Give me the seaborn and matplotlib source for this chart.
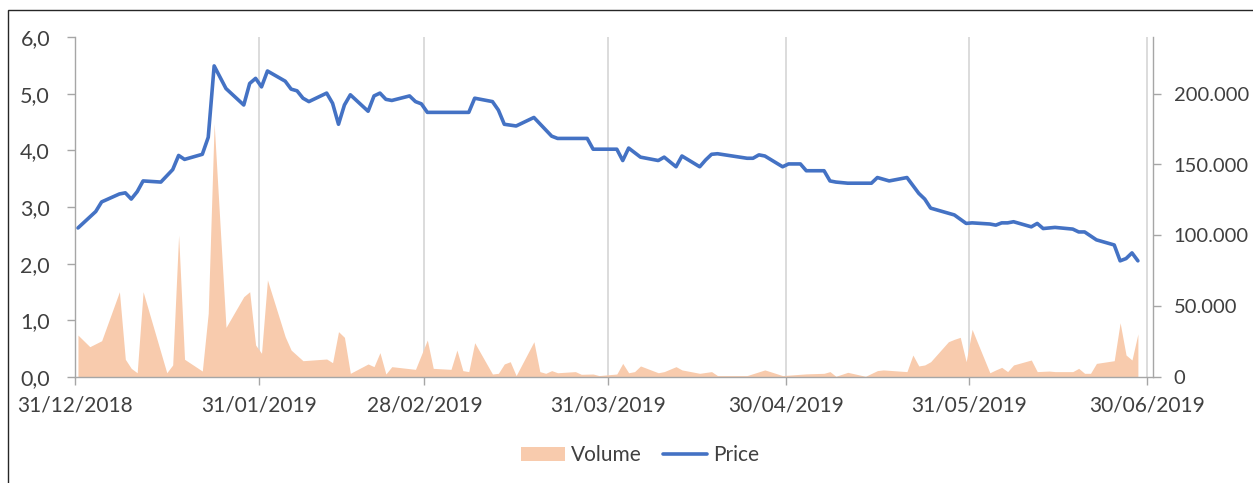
import pandas as pd
import matplotlib
matplotlib.use("Agg")
import matplotlib.pyplot as plt
import matplotlib.dates as mdates
from matplotlib.patches import Patch, Rectangle
from matplotlib.lines import Line2D
from matplotlib.ticker import FuncFormatter
import seaborn as sns

# Price (left axis)
price_dates = ["2018-12-31", "2019-01-03", "2019-01-04", "2019-01-07", "2019-01-08", "2019-01-09",
               "2019-01-10", "2019-01-11", "2019-01-14", "2019-01-16", "2019-01-17", "2019-01-18",
               "2019-01-21", "2019-01-22", "2019-01-23", "2019-01-25", "2019-01-28", "2019-01-29",
               "2019-01-30", "2019-01-31", "2019-02-01", "2019-02-04", "2019-02-05", "2019-02-06",
               "2019-02-07", "2019-02-08", "2019-02-11", "2019-02-12", "2019-02-13", "2019-02-14",
               "2019-02-15", "2019-02-18", "2019-02-19", "2019-02-20", "2019-02-21", "2019-02-22",
               "2019-02-25", "2019-02-26", "2019-02-27", "2019-02-28", "2019-03-07", "2019-03-08",
               "2019-03-11", "2019-03-12", "2019-03-13", "2019-03-15", "2019-03-18", "2019-03-21",
               "2019-03-22", "2019-03-27", "2019-03-28", "2019-04-01", "2019-04-02", "2019-04-03",
               "2019-04-05", "2019-04-08", "2019-04-09", "2019-04-11", "2019-04-12", "2019-04-15",
               "2019-04-16", "2019-04-17", "2019-04-18", "2019-04-23", "2019-04-24", "2019-04-25",
               "2019-04-26", "2019-04-29", "2019-04-30", "2019-05-02", "2019-05-03", "2019-05-06",
               "2019-05-07", "2019-05-08", "2019-05-10", "2019-05-14", "2019-05-15", "2019-05-17",
               "2019-05-20", "2019-05-22", "2019-05-23", "2019-05-24", "2019-05-27", "2019-05-28",
               "2019-05-30", "2019-05-31", "2019-06-03", "2019-06-04", "2019-06-05", "2019-06-06",
               "2019-06-07", "2019-06-10", "2019-06-11", "2019-06-12", "2019-06-14", "2019-06-17",
               "2019-06-18", "2019-06-19", "2019-06-21", "2019-06-24", "2019-06-25", "2019-06-26",
               "2019-06-27", "2019-06-28"]
price = [2.63, 2.92, 3.09, 3.23, 3.25, 3.14, 3.27, 3.46, 3.44, 3.66, 3.91, 3.84,
         3.93, 4.23, 5.49, 5.09, 4.80, 5.18, 5.27, 5.12, 5.40, 5.22, 5.08, 5.05,
         4.92, 4.86, 5.01, 4.83, 4.46, 4.80, 4.98, 4.69, 4.96, 5.01, 4.90, 4.88,
         4.96, 4.86, 4.82, 4.67, 4.67, 4.92, 4.86, 4.71, 4.46, 4.43, 4.58, 4.25,
         4.21, 4.21, 4.02, 4.02, 3.82, 4.04, 3.88, 3.82, 3.88, 3.71, 3.90, 3.71,
         3.83, 3.93, 3.94, 3.86, 3.86, 3.92, 3.90, 3.71, 3.76, 3.76, 3.64, 3.64,
         3.46, 3.44, 3.42, 3.42, 3.52, 3.46, 3.52, 3.24, 3.14, 2.98, 2.89, 2.86,
         2.71, 2.72, 2.70, 2.68, 2.72, 2.72, 2.74, 2.65, 2.71, 2.62, 2.64, 2.61,
         2.56, 2.56, 2.42, 2.33, 2.05, 2.09, 2.19, 2.05]

# Volume (right axis)
vol_dates = ["2018-12-31", "2019-01-02", "2019-01-04", "2019-01-07", "2019-01-08", "2019-01-09",
             "2019-01-10", "2019-01-11", "2019-01-15", "2019-01-16", "2019-01-17", "2019-01-18",
             "2019-01-21", "2019-01-22", "2019-01-23", "2019-01-25", "2019-01-28", "2019-01-29",
             "2019-01-30", "2019-01-31", "2019-02-01", "2019-02-04", "2019-02-05", "2019-02-07",
             "2019-02-11", "2019-02-12", "2019-02-13", "2019-02-14", "2019-02-15", "2019-02-18",
             "2019-02-19", "2019-02-20", "2019-02-21", "2019-02-22", "2019-02-26", "2019-02-28",
             "2019-03-01", "2019-03-04", "2019-03-05", "2019-03-06", "2019-03-07", "2019-03-08",
             "2019-03-11", "2019-03-12", "2019-03-13", "2019-03-14", "2019-03-15", "2019-03-18",
             "2019-03-19", "2019-03-20", "2019-03-21", "2019-03-22", "2019-03-25", "2019-03-26",
             "2019-03-28", "2019-03-29", "2019-04-01", "2019-04-02", "2019-04-03", "2019-04-04",
             "2019-04-05", "2019-04-08", "2019-04-09", "2019-04-11", "2019-04-12", "2019-04-15",
             "2019-04-17", "2019-04-18", "2019-04-23", "2019-04-26", "2019-04-29", "2019-05-03",
             "2019-05-06", "2019-05-07", "2019-05-08", "2019-05-10", "2019-05-13", "2019-05-15",
             "2019-05-16", "2019-05-20", "2019-05-21", "2019-05-22", "2019-05-23", "2019-05-24",
             "2019-05-27", "2019-05-28", "2019-05-29", "2019-05-30", "2019-05-31", "2019-06-03",
             "2019-06-04", "2019-06-05", "2019-06-06", "2019-06-07", "2019-06-10", "2019-06-11",
             "2019-06-13", "2019-06-14", "2019-06-17", "2019-06-18", "2019-06-19", "2019-06-20",
             "2019-06-21", "2019-06-24", "2019-06-25", "2019-06-26", "2019-06-27", "2019-06-28"]
volume = [29600, 21400, 25600, 60200, 12500, 6100, 3000, 60200, 3000, 8500, 100200, 12500,
          4200, 45000, 179000, 35000, 56700, 60200, 22600, 16700, 68500, 28400, 19000, 11500,
          12700, 10100, 32000, 28000, 2600, 9200, 7300, 17200, 2100, 7300, 5400, 26100,
          6100, 5400, 19000, 4500, 3800, 24200, 2100, 2600, 9200, 10800, 1000, 24900,
          3800, 2600, 4500, 3000, 3800, 1900, 2100, 1000, 2100, 9600, 3000, 3800,
          7800, 3000, 3800, 7300, 5000, 2600, 3800, 1000, 1000, 5000, 1000, 2200,
          2600, 3800, 500, 3300, 500, 4500, 5000, 3800, 15500, 7800, 8500, 10800,
          24900, 26600, 28000, 10800, 33600, 3000, 5000, 6800, 3800, 8500, 12000, 3800,
          4200, 3800, 3800, 6100, 2600, 2600, 9600, 11500, 38300, 15500, 12000, 30400]

tick_dates = ["2018-12-31", "2019-01-31", "2019-02-28", "2019-03-31",
              "2019-04-30", "2019-05-31", "2019-06-30"]

assert len(price_dates) == len(price)
assert len(vol_dates) == len(volume)

BLUE = "#4472c4"
PEACH = "#f8cbad"
TXT = "#404040"
AX_GRAY = "#a6a6a6"

# Excel places points half a day right of the tick (between tick marks)
half_day = pd.Timedelta(hours=12)
price_df = pd.DataFrame({"date": pd.to_datetime(price_dates) + half_day, "price": price})
vol_df = pd.DataFrame({"date": pd.to_datetime(vol_dates) + half_day, "volume": volume})
ticks = pd.to_datetime(tick_dates)

sns.set_theme(style="white")
plt.rcParams["font.family"] = ["Lato", "DejaVu Sans"]

fig = plt.figure(figsize=(12.53, 4.83), dpi=100)
ax = fig.add_axes([75 / 1253, 1 - 377 / 483, (1152.7 - 75) / 1253, 340 / 483])
ax2 = ax.twinx()

# volume area behind, price line in front
ax.set_zorder(2)
ax.patch.set_visible(False)

for t in ticks[1:]:
    ax2.axvline(t, color="#d9d9d9", lw=1.3, zorder=0)

ax2.fill_between(vol_df["date"], vol_df["volume"], color=PEACH, lw=0, zorder=1)
sns.lineplot(data=price_df, x="date", y="price", ax=ax, color=BLUE, lw=2.6, legend=False)

ax.set_xlim(pd.Timestamp("2018-12-31"), pd.Timestamp("2019-07-01"))
ax.set_ylim(0, 6)
ax2.set_ylim(0, 240000)
ax.set_yticks([0, 1, 2, 3, 4, 5, 6])
ax2.set_yticks([0, 50000, 100000, 150000, 200000])
ax.set_xticks(ticks)
ax.xaxis.set_major_formatter(mdates.DateFormatter("%d/%m/%Y"))
ax.yaxis.set_major_formatter(FuncFormatter(lambda v, p: f"{v:.1f}".replace(".", ",")))
ax2.yaxis.set_major_formatter(FuncFormatter(lambda v, p: f"{int(v):,}".replace(",", ".")))
ax.set_xlabel("")
ax.set_ylabel("")

for a in (ax, ax2):
    for s in a.spines.values():
        s.set_visible(False)
ax.spines["left"].set_visible(True)
ax.spines["bottom"].set_visible(True)
ax2.spines["right"].set_visible(True)
for s in (ax.spines["left"], ax.spines["bottom"], ax2.spines["right"]):
    s.set_color(AX_GRAY)
    s.set_linewidth(1.0)

ax.tick_params(axis="y", left=True, length=6, width=1, color=AX_GRAY, labelsize=15.5,
               labelcolor=TXT, pad=12)
ax.tick_params(axis="x", bottom=True, length=6, width=1, color=AX_GRAY, labelsize=15,
               labelcolor=TXT, pad=7)
ax2.tick_params(axis="y", right=True, length=6, width=1, color=AX_GRAY, labelsize=14.5,
                labelcolor=TXT, pad=9)

handles = [Patch(facecolor=PEACH, edgecolor="none", label="Volume"),
           Line2D([0], [0], color=BLUE, lw=2.6, label="Price")]
fig.legend(handles=handles, loc="center", bbox_to_anchor=(640 / 1253, 1 - 455 / 483), ncol=2,
           frameon=False, fontsize=15, handlelength=2.1, handleheight=0.65,
           handletextpad=0.3, columnspacing=1.0, labelcolor=TXT)

# outer chart frame (left and top edges visible)
fig.patches.append(Rectangle((8 / 1253, -0.1), 1.2, 1 - 10 / 483 + 0.1, transform=fig.transFigure,
                             fill=False, edgecolor="#262626", lw=1.0))

fig.savefig("out.png", dpi=100)
